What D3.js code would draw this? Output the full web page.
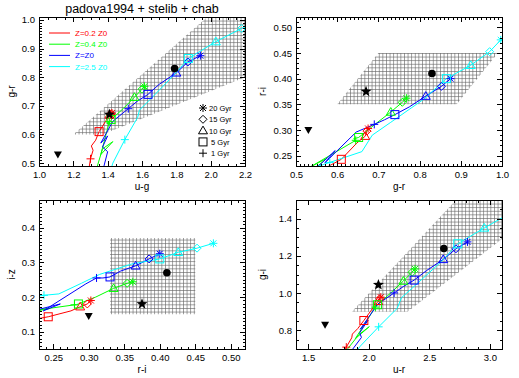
<!DOCTYPE html>
<html>
<head>
<meta charset="utf-8">
<script src="https://cdnjs.cloudflare.com/ajax/libs/d3/7.8.5/d3.min.js"></script>
<style>
  body { margin: 0; background: #fff; }
  svg { font-family: "Liberation Sans", Arial, sans-serif; }
  text { white-space: pre; }
</style>
</head>
<body>
<svg id="chart" width="519" height="378"></svg>
<script>
// ---- model tracks: age (Gyr) and colours along each track ----
var ages_z02 = [0.5, 1, 1.5, 2, 3, 5, 7, 10, 15, 20];
var ug_z02 = [1.28, 1.30, 1.315, 1.305, 1.33, 1.35, 1.39, 1.41, 1.42, 1.425];
var gr_z02 = [0.44, 0.515, 0.545, 0.56, 0.58, 0.61, 0.648, 0.668, 0.672, 0.675];
var ri_z02 = [0.185, 0.195, 0.215, 0.22, 0.23, 0.243, 0.275, 0.288, 0.298, 0.303];
var iz_z02 = [0.115, 0.125, 0.13, 0.133, 0.138, 0.143, 0.16, 0.172, 0.18, 0.19];

var ages_z04 = [0.5, 0.7, 0.8, 0.9, 1, 3, 5, 7, 10, 15, 20];
var ug_z04 = [1.32, 1.37, 1.43, 1.36, 1.41, 1.40, 1.42, 1.49, 1.556, 1.60, 1.614];
var gr_z04 = [0.45, 0.55, 0.575, 0.53, 0.645, 0.64, 0.652, 0.69, 0.73, 0.758, 0.768];
var ri_z04 = [0.205, 0.228, 0.245, 0.226, 0.28, 0.283, 0.2855, 0.31, 0.335, 0.354, 0.362];
var iz_z04 = [0.145, 0.16, 0.167, 0.162, 0.1775, 0.178, 0.18, 0.20, 0.225, 0.2395, 0.244];

var ages_z1 = [0.5, 0.6, 0.7, 0.8, 0.85, 0.95, 1, 3, 5, 7, 10, 15, 20];
var ug_z1 = [1.37, 1.40, 1.37, 1.40, 1.36, 1.43, 1.52, 1.57, 1.635, 1.70, 1.80, 1.867, 1.94];
var gr_z1 = [0.47, 0.54, 0.556, 0.595, 0.57, 0.646, 0.69, 0.715, 0.74, 0.775, 0.815, 0.853, 0.875];
var ri_z1 = [0.205, 0.222, 0.231, 0.26, 0.236, 0.296, 0.311, 0.32, 0.33, 0.345, 0.366, 0.385, 0.40];
var iz_z1 = [0.16, 0.175, 0.165, 0.18, 0.16, 0.238, 0.255, 0.255, 0.258, 0.275, 0.29, 0.31, 0.325];

var ages_z25 = [0.5, 0.7, 1, 2, 3, 4, 4.5, 5, 10, 15, 20];
var ug_z25 = [1.40, 1.43, 1.50, 1.575, 1.585, 1.66, 1.79, 1.87, 2.03, 2.18, 2.25];
var gr_z25 = [0.44, 0.50, 0.582, 0.66, 0.685, 0.73, 0.81, 0.865, 0.924, 0.97, 0.997];
var ri_z25 = [0.195, 0.215, 0.237, 0.258, 0.29, 0.315, 0.36, 0.40, 0.426, 0.4525, 0.4755];
var iz_z25 = [0.195, 0.2, 0.205, 0.209, 0.24, 0.265, 0.295, 0.31, 0.329, 0.341, 0.355];

var trackLabels = ['Z=0.2 Z0', 'Z=0.4 Z0', 'Z=Z0', 'Z=2.5 Z0'];

// age markers
var markerAges = [20, 15, 10, 5, 1];
var markerLabels = ['20 Gyr', '15 Gyr', '10 Gyr', ' 5 Gyr', ' 1 Gyr'];
var markerTypes = ['asterisk', 'diamond', 'triangle', 'square', 'plus'];

// observed objects (black)
var refTypes = ['downTriangle', 'star', 'circle'];
var ref_ug = [1.11, 1.41, 1.79];
var ref_gr = [0.53, 0.67, 0.83];
var ref_ri = [0.30, 0.375, 0.41];
var ref_iz = [0.145, 0.18, 0.27];

// selection regions (hatched)
var region_ug_gr = [[1.2, 0.6], [1.37, 0.6], [2.2, 0.8], [2.2, 1.01], [1.98, 1.01]];
var region_gr_ri = [[0.6, 0.35], [0.89, 0.35], [0.99, 0.45], [0.7, 0.45]];
var region_ri_iz = [[0.33, 0.15], [0.45, 0.15], [0.45, 0.37], [0.33, 0.37]];
var region_ur_gi = [[1.86, 0.9], [2.32, 0.9], [3.1, 1.29], [3.1, 1.5], [2.72, 1.5]];

// axis ranges and tick labels
var ugRange = [1.0, 2.2], ugTicks = [1.0, 1.2, 1.4, 1.6, 1.8, 2.0, 2.2];
var grRange1 = [0.49, 1.01], grTicks1 = [0.5, 0.6, 0.7, 0.8, 0.9, 1.0];
var grRange2 = [0.5, 1.0], grTicks2 = [0.5, 0.6, 0.7, 0.8, 0.9, 1.0];
var riRange = [0.23, 0.52], riTicks = [0.25, 0.30, 0.35, 0.40, 0.45, 0.50];
var izRange = [0.05, 0.48], izTicks = [0.1, 0.2, 0.3, 0.4];
var urRange = [1.4, 3.1], urTicks = [1.5, 2.0, 2.5, 3.0];
var giRange = [0.7, 1.5], giTicks = [0.8, 1.0, 1.2, 1.4];

// ---- styles ----
var trackColors = ['#ff0000', '#00ff00', '#0000ff', '#00ffff'];
var panelW = 206, panelH = 149;

var tracks = [
  {ages: ages_z02, ug: ug_z02, gr: gr_z02, ri: ri_z02, iz: iz_z02},
  {ages: ages_z04, ug: ug_z04, gr: gr_z04, ri: ri_z04, iz: iz_z04},
  {ages: ages_z1, ug: ug_z1, gr: gr_z1, ri: ri_z1, iz: iz_z1},
  {ages: ages_z25, ug: ug_z25, gr: gr_z25, ri: ri_z25, iz: iz_z25}
];
var refs = {ug: ref_ug, gr: ref_gr, ri: ref_ri, iz: ref_iz};

// colour index, including the combined ones
function colour(set, key, i) {
  if (key === 'ur') return set.ug[i] + set.gr[i];
  if (key === 'gi') return set.gr[i] + set.ri[i];
  return set[key][i];
}

var panels = [
  {x: 'ug', y: 'gr', left: 39, top: 17, xd: ugRange, yd: grRange1, xt: ugTicks, yt: grTicks1,
   xMinor: 0.05, yMinor: 0.01, xf: '.1f', yf: '.1f', region: region_ug_gr, xl: 'u-g', yl: 'g-r', ylx: 15},
  {x: 'gr', y: 'ri', left: 296, top: 17, xd: grRange2, yd: riRange, xt: grTicks2, yt: riTicks,
   xMinor: 0.01, yMinor: 0.01, xf: '.1f', yf: '.2f', region: region_gr_ri, xl: 'g-r', yl: 'r-i', ylx: 266},
  {x: 'ri', y: 'iz', left: 39, top: 200, xd: riRange, yd: izRange, xt: riTicks, yt: izTicks,
   xMinor: 0.01, yMinor: 0.01, xf: '.2f', yf: '.1f', region: region_ri_iz, xl: 'r-i', yl: 'i-z', ylx: 15},
  {x: 'ur', y: 'gi', left: 296, top: 200, xd: urRange, yd: giRange, xt: urTicks, yt: giTicks,
   xMinor: 0.1, yMinor: 0.05, xf: '.1f', yf: '.1f', region: region_ur_gi, xl: 'u-r', yl: 'g-i', ylx: 266}
];

var svg = d3.select('#chart');

// crosshatch fill
var pat = svg.append('defs').append('pattern')
  .attr('id', 'hatch')
  .attr('patternUnits', 'userSpaceOnUse')
  .attr('width', 3.6)
  .attr('height', 3.6);
pat.append('path')
  .attr('d', 'M0,0.35H3.6M0.35,0V3.6')
  .attr('stroke', '#666')
  .attr('stroke-width', 0.7);

function drawSymbol(g, type, cx, cy, color) {
  var s = 4;
  if (type === 'plus') {
    g.append('path').attr('d', `M${cx - s},${cy}H${cx + s}M${cx},${cy - s}V${cy + s}`)
      .attr('stroke', color).attr('fill', 'none');
  } else if (type === 'asterisk') {
    var d = s * 0.75;
    g.append('path').attr('d', `M${cx - s},${cy}H${cx + s}M${cx},${cy - s}V${cy + s}` +
        `M${cx - d},${cy - d}L${cx + d},${cy + d}M${cx - d},${cy + d}L${cx + d},${cy - d}`)
      .attr('stroke', color).attr('fill', 'none');
  } else if (type === 'square') {
    g.append('rect').attr('x', cx - s).attr('y', cy - s).attr('width', 2 * s).attr('height', 2 * s)
      .attr('stroke', color).attr('fill', 'none');
  } else if (type === 'triangle') {
    g.append('path').attr('d', `M${cx},${cy - 4.5}L${cx + 4.5},${cy + 3.2}L${cx - 4.5},${cy + 3.2}Z`)
      .attr('stroke', color).attr('fill', 'none');
  } else if (type === 'diamond') {
    g.append('path').attr('d', `M${cx},${cy - s}L${cx + s},${cy}L${cx},${cy + s}L${cx - s},${cy}Z`)
      .attr('stroke', color).attr('fill', 'none');
  } else if (type === 'downTriangle') {
    g.append('path').attr('d', `M${cx - 4},${cy - 3}L${cx + 4},${cy - 3}L${cx},${cy + 4}Z`)
      .attr('fill', color);
  } else if (type === 'circle') {
    g.append('circle').attr('cx', cx).attr('cy', cy).attr('r', 3.8).attr('fill', color);
  } else if (type === 'star') {
    var pts = d3.range(10).map(function(k) {
      var r = k % 2 === 0 ? 5.8 : 2.4;
      var a = -Math.PI / 2 + k * Math.PI / 5;
      return [cx + r * Math.cos(a), cy + r * Math.sin(a)];
    });
    g.append('path').attr('d', d3.line()(pts) + 'Z').attr('fill', color);
  }
}

function minorTicks(domain, step, majors) {
  var start = Math.ceil(domain[0] / step - 1e-6) * step;
  return d3.range(start, domain[1] + step * 0.01, step).filter(function(v) {
    return !majors.some(function(m) { return Math.abs(m - v) < step * 0.01; });
  });
}

panels.forEach(function(p, pi) {
  var x = d3.scaleLinear().domain(p.xd).range([0, panelW]);
  var y = d3.scaleLinear().domain(p.yd).range([panelH, 0]);
  var g = svg.append('g').attr('transform', `translate(${p.left},${p.top})`);

  g.append('clipPath').attr('id', 'clip' + pi)
    .append('rect').attr('width', panelW).attr('height', panelH);
  var plot = g.append('g').attr('clip-path', `url(#clip${pi})`);

  // hatched selection region
  plot.append('path')
    .attr('d', d3.line().x(function(d) { return x(d[0]); }).y(function(d) { return y(d[1]); })(p.region) + 'Z')
    .attr('fill', 'url(#hatch)');

  // model tracks
  var line = d3.line().x(function(d) { return x(d[0]); }).y(function(d) { return y(d[1]); });
  tracks.forEach(function(t, ti) {
    var pts = t.ages.map(function(a, i) { return [colour(t, p.x, i), colour(t, p.y, i)]; });
    plot.append('path').attr('d', line(pts))
      .attr('fill', 'none').attr('stroke', trackColors[ti]).attr('stroke-width', 1);
  });
  tracks.forEach(function(t, ti) {
    markerAges.forEach(function(a, mi) {
      var i = t.ages.indexOf(a);
      if (i < 0) return;
      drawSymbol(plot, markerTypes[mi], x(colour(t, p.x, i)), y(colour(t, p.y, i)), trackColors[ti]);
    });
  });

  // observed objects
  refTypes.forEach(function(type, i) {
    drawSymbol(plot, type, x(colour(refs, p.x, i)), y(colour(refs, p.y, i)), '#000');
  });

  // axes: ticks on all four sides, pointing inward
  var fontSize = 9.5;
  var xMin = minorTicks(p.xd, p.xMinor, p.xt);
  var yMin = minorTicks(p.yd, p.yMinor, p.yt);
  function style(a) {
    a.select('.domain').remove();
    a.selectAll('line').attr('stroke', '#000').attr('shape-rendering', 'crispEdges');
    a.selectAll('text').attr('font-size', fontSize).attr('font-family', '"Liberation Sans", Arial, sans-serif').attr('fill', '#000');
  }
  g.append('g').attr('transform', `translate(0,${panelH})`)
    .call(d3.axisBottom(x).tickValues(p.xt).tickSize(-5).tickPadding(5).tickFormat(d3.format(p.xf))).call(style);
  g.append('g').attr('transform', `translate(0,${panelH})`)
    .call(d3.axisBottom(x).tickValues(xMin).tickSize(-2.5).tickFormat('')).call(style);
  g.append('g')
    .call(d3.axisTop(x).tickValues(p.xt).tickSize(-5).tickFormat('')).call(style);
  g.append('g')
    .call(d3.axisTop(x).tickValues(xMin).tickSize(-2.5).tickFormat('')).call(style);
  g.append('g')
    .call(d3.axisLeft(y).tickValues(p.yt).tickSize(-5).tickPadding(4).tickFormat(d3.format(p.yf))).call(style);
  g.append('g')
    .call(d3.axisLeft(y).tickValues(yMin).tickSize(-2.5).tickFormat('')).call(style);
  g.append('g').attr('transform', `translate(${panelW},0)`)
    .call(d3.axisRight(y).tickValues(p.yt).tickSize(-5).tickFormat('')).call(style);
  g.append('g').attr('transform', `translate(${panelW},0)`)
    .call(d3.axisRight(y).tickValues(yMin).tickSize(-2.5).tickFormat('')).call(style);

  g.append('rect').attr('x', 0.5).attr('y', 0.5).attr('width', panelW).attr('height', panelH)
    .attr('fill', 'none').attr('stroke', '#000').attr('stroke-width', 1);

  // axis titles
  g.append('text').attr('x', panelW / 2).attr('y', panelH + 24)
    .attr('text-anchor', 'middle').attr('font-size', 10).text(p.xl);
  svg.append('text')
    .attr('transform', `translate(${p.ylx},${p.top + panelH / 2}) rotate(-90)`)
    .attr('text-anchor', 'middle').attr('font-size', 10).text(p.yl);

  // legends live in the first panel
  if (pi === 0) {
    trackLabels.forEach(function(lbl, i) {
      var ly = 16 + i * 11.2;
      g.append('line').attr('x1', 10).attr('x2', 31).attr('y1', ly).attr('y2', ly)
        .attr('stroke', trackColors[i]);
      g.append('text').attr('x', 36).attr('y', ly + 3).attr('font-size', 8)
        .attr('fill', trackColors[i]).text(lbl);
    });
    markerLabels.forEach(function(lbl, i) {
      var ly = 91 + i * 11.3;
      drawSymbol(g, markerTypes[i], 164, ly, '#000');
      g.append('text').attr('x', 170).attr('y', ly + 3).attr('font-size', 7.5)
        .attr('fill', '#000').text(lbl);
    });
  }
});

svg.append('text').attr('x', 142).attr('y', 12.5)
  .attr('text-anchor', 'middle').attr('font-size', 12.5).text('padova1994 + stelib + chab');
</script>
</body>
</html>
